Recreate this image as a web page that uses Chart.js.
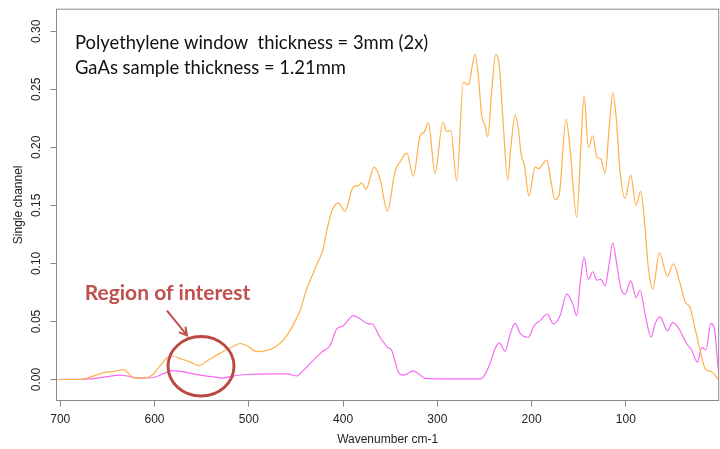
<!DOCTYPE html>
<html>
<head>
<meta charset="utf-8">
<script src="https://cdn.jsdelivr.net/npm/chart.js@4/dist/chart.umd.min.js"></script>
<style>
  html, body { margin: 0; padding: 0; background: #fff; }
</style>
</head>
<body>
<canvas id="myChart" width="720" height="449"></canvas>
<script>
// wavenumber (cm-1) and single channel intensity
const waveOrange = [703.5, 679, 668.5, 650.4, 641.9, 632.7, 627.4, 622.1, 611.5, 602.7, 593.9, 586.8, 581.5, 572.6, 562, 553.1, 542.5, 530.2, 517.8, 509, 501.9, 491.3, 480.7, 470, 459.4, 448.8, 445.7, 438.2, 435, 427.9, 420.9, 417.3, 412, 405, 397.9, 389.1, 383.8, 380.2, 375.6, 367.1, 360.8, 353, 344.9, 339.5, 332.4, 325.4, 318.3, 314.1, 309.5, 302.4, 294.2, 290, 285.8, 279.4, 272.4, 267.1, 260, 256.5, 252.9, 249.4, 246.5, 242.2, 238, 234.2, 230.6, 225.3, 222.1, 217.5, 214, 211.2, 207.7, 202.7, 196.3, 192.8, 183.9, 179.7, 175.1, 170.8, 163.4, 159.2, 152.1, 147.8, 144.3, 139.8, 135.1, 130.8, 126.6, 122, 117.8, 113.9, 110.4, 106.1, 100.8, 94.8, 89.2, 84.2, 79.6, 76.1, 71.4, 64.4, 55.9, 49.6, 43.2, 37.2, 31.9, 26.5, 21.2, 15.9, 8.8, 1.8];
const signalOrange = [0, 0, 0.002, 0.0065, 0.007, 0.0085, 0.005, 0.0014, 0.001, 0.0037, 0.012, 0.0188, 0.020, 0.018, 0.015, 0.012, 0.017, 0.0227, 0.028, 0.031, 0.029, 0.024, 0.025, 0.029, 0.038, 0.0535, 0.059, 0.079, 0.085, 0.099, 0.113, 0.128, 0.145, 0.152, 0.145, 0.166, 0.167, 0.1695, 0.164, 0.183, 0.173, 0.145, 0.179, 0.1875, 0.195, 0.175, 0.210, 0.213, 0.221, 0.1775, 0.2216, 0.2137, 0.2145, 0.171, 0.256, 0.254, 0.280, 0.2615, 0.227, 0.219, 0.209, 0.250, 0.280, 0.270, 0.227, 0.172, 0.199, 0.228, 0.216, 0.1945, 0.1846, 0.158, 0.183, 0.1817, 0.189, 0.172, 0.155, 0.159, 0.224, 0.199, 0.1396, 0.199, 0.2445, 0.200, 0.210, 0.1917, 0.190, 0.1775, 0.216, 0.247, 0.227, 0.179, 0.156, 0.176, 0.150, 0.162, 0.130, 0.096, 0.078, 0.109, 0.089, 0.0997, 0.085, 0.067, 0.062, 0.0436, 0.025, 0.0094, 0.0065, 0];

const waveMagenta = [703.5, 668.5, 653.9, 636.3, 629.2, 618.6, 602.7, 590.3, 581.5, 569, 551.4, 537.2, 528.4, 516, 501.9, 473.6, 459.4, 448.8, 445.7, 438.2, 435, 422.6, 413.8, 406.7, 399.7, 389.1, 380.2, 373.2, 369.6, 360.8, 353, 348.4, 341.4, 336, 325.4, 320.1, 313, 286.5, 254.7, 251.2, 244.1, 238.8, 234.2, 228.1, 222.8, 217.5, 212.2, 203.4, 197.4, 191, 183.3, 176.9, 169.8, 162.7, 156.3, 152.1, 148.6, 144.3, 139.8, 135.1, 130.8, 126.6, 122, 117.8, 113.9, 109.6, 105.4, 100.8, 94.8, 89.2, 84.9, 79.6, 73.2, 69, 63.7, 55.9, 50.2, 42.5, 35.4, 30, 24.1, 19.4, 14.9, 9.9, 6.4, 1.8];
const signalMagenta = [0, 0.0005, 0.002, 0.0037, 0.003, 0.0014, 0.0015, 0.005, 0.0077, 0.0065, 0.0037, 0.0022, 0.0012, 0.003, 0.0043, 0.0048, 0.0048, 0.003, 0.005, 0.0108, 0.0137, 0.0236, 0.0293, 0.0436, 0.0464, 0.055, 0.0513, 0.0479, 0.048, 0.0364, 0.0279, 0.025, 0.0065, 0.0037, 0.0074, 0.005, 0.001, 0.0005, 0.0005, 0.002, 0.0137, 0.0265, 0.0316, 0.0245, 0.039, 0.0484, 0.0398, 0.0364, 0.0464, 0.0507, 0.0564, 0.0479, 0.055, 0.0735, 0.065, 0.055, 0.082, 0.1054, 0.0863, 0.0928, 0.0855, 0.0863, 0.0806, 0.099, 0.1176, 0.099, 0.079, 0.0735, 0.0849, 0.0706, 0.0769, 0.0564, 0.0364, 0.0479, 0.054, 0.042, 0.0492, 0.042, 0.0308, 0.025, 0.015, 0.0274, 0.0256, 0.0484, 0.045, 0.0065];

const xTicks = [700, 600, 500, 400, 300, 200, 100];
const yTicks = [0, 0.05, 0.10, 0.15, 0.20, 0.25, 0.30];

const noteLines = ["Polyethylene window  thickness = 3mm (2x)", "GaAs sample thickness = 1.21mm"];
const regionLabel = "Region of interest";

const pts = (xs, ys) => xs.map((x, i) => ({ x: x, y: ys[i] }));

const axisGray = "#8a8a8a";
const red = "#c0504d";

// frame, notes, arrow and circle
const annotations = {
  id: "annotations",
  afterDraw(chart) {
    const { ctx, chartArea: a, scales: { x, y } } = chart;
    ctx.save();
    ctx.strokeStyle = axisGray;
    ctx.lineWidth = 1;
    ctx.strokeRect(a.left, a.top, a.right - a.left, a.bottom - a.top);

    ctx.fillStyle = "#111";
    ctx.textBaseline = "alphabetic";
    ctx.font = "18.4px Lato";
    ctx.fillText(noteLines[0], x.getPixelForValue(684.4), y.getPixelForValue(0.2843));
    ctx.fillText(noteLines[1], x.getPixelForValue(684.4), y.getPixelForValue(0.2635));

    ctx.fillStyle = red;
    ctx.font = "bold 21px Lato";
    ctx.fillText(regionLabel, x.getPixelForValue(674.1), y.getPixelForValue(0.0686));

    // arrow
    const x0 = x.getPixelForValue(586.8), y0 = y.getPixelForValue(0.0593);
    const x1 = x.getPixelForValue(565.5), y1 = y.getPixelForValue(0.0379);
    const ang = Math.atan2(y1 - y0, x1 - x0);
    ctx.strokeStyle = red;
    ctx.lineWidth = 2;
    ctx.beginPath();
    ctx.moveTo(x0, y0);
    ctx.lineTo(x1, y1);
    ctx.moveTo(x1 - 9 * Math.cos(ang - 0.5), y1 - 9 * Math.sin(ang - 0.5));
    ctx.lineTo(x1, y1);
    ctx.lineTo(x1 - 9 * Math.cos(ang + 0.5), y1 - 9 * Math.sin(ang + 0.5));
    ctx.stroke();

    // circle round the region
    const cx = x.getPixelForValue(550.7), cy = y.getPixelForValue(0.0114);
    const rx = Math.abs(x.getPixelForValue(550.7 - 35) - cx);
    const ry = Math.abs(y.getPixelForValue(0.0114 + 0.0256) - cy);
    ctx.strokeStyle = "#bc4844";
    ctx.lineWidth = 3;
    ctx.beginPath();
    ctx.ellipse(cx, cy, rx, ry, 0, 0, Math.PI * 2);
    ctx.stroke();
    ctx.restore();
  }
};

chart = new Chart(document.getElementById("myChart").getContext("2d"), {
  type: "line",
  data: {
    datasets: [
      {
        label: "Sample",
        data: pts(waveOrange, signalOrange),
        borderColor: "#ffb04a",
        borderWidth: 1.2,
        pointRadius: 0,
        cubicInterpolationMode: "monotone",
      },
      {
        label: "Window",
        data: pts(waveMagenta, signalMagenta),
        borderColor: "#f66af3",
        borderWidth: 1.2,
        pointRadius: 0,
        cubicInterpolationMode: "monotone",
      },
    ],
  },
  options: {
    responsive: false,
    animation: false,
    layout: { autoPadding: false, padding: { top: 6, right: 1.3, left: 0, bottom: 0 } },
    plugins: {
      legend: { display: false },
      tooltip: { enabled: false },
    },
    scales: {
      x: {
        type: "linear",
        reverse: true,
        min: 1.5,
        max: 704,
        afterBuildTicks: (s) => { s.ticks = xTicks.map((v) => ({ value: v })); },
        afterFit: (s) => { s.height = 48.5; },
        grid: { drawOnChartArea: false, tickLength: 6, color: axisGray },
        border: { color: axisGray },
        ticks: {
          padding: 6,
          color: "#222",
          font: { family: "Liberation Sans", size: 12 },
          maxRotation: 0,
          callback: (v) => String(v),
        },
        title: {
          display: true,
          text: "Wavenumber cm-1",
          color: "#222",
          font: { family: "Liberation Sans", size: 12 },
          padding: { top: 0, bottom: 2 },
        },
      },
      y: {
        min: -0.0181,
        max: 0.319,
        afterBuildTicks: (s) => { s.ticks = yTicks.map((v) => ({ value: v })); },
        afterFit: (s) => { s.width = 56.5; },
        grid: { drawOnChartArea: false, tickLength: 6, color: axisGray },
        border: { color: axisGray },
        ticks: {
          padding: 2,
          minRotation: 90,
          maxRotation: 90,
          crossAlign: "center",
          color: "#222",
          font: { family: "Liberation Sans", size: 12 },
          callback: (v) => v.toFixed(2),
        },
        title: {
          display: true,
          text: "Single channel",
          color: "#222",
          font: { family: "Liberation Sans", size: 12 },
          padding: { top: 11, bottom: 0 },
        },
      },
    },
  },
  plugins: [annotations],
});
</script>
</body>
</html>
